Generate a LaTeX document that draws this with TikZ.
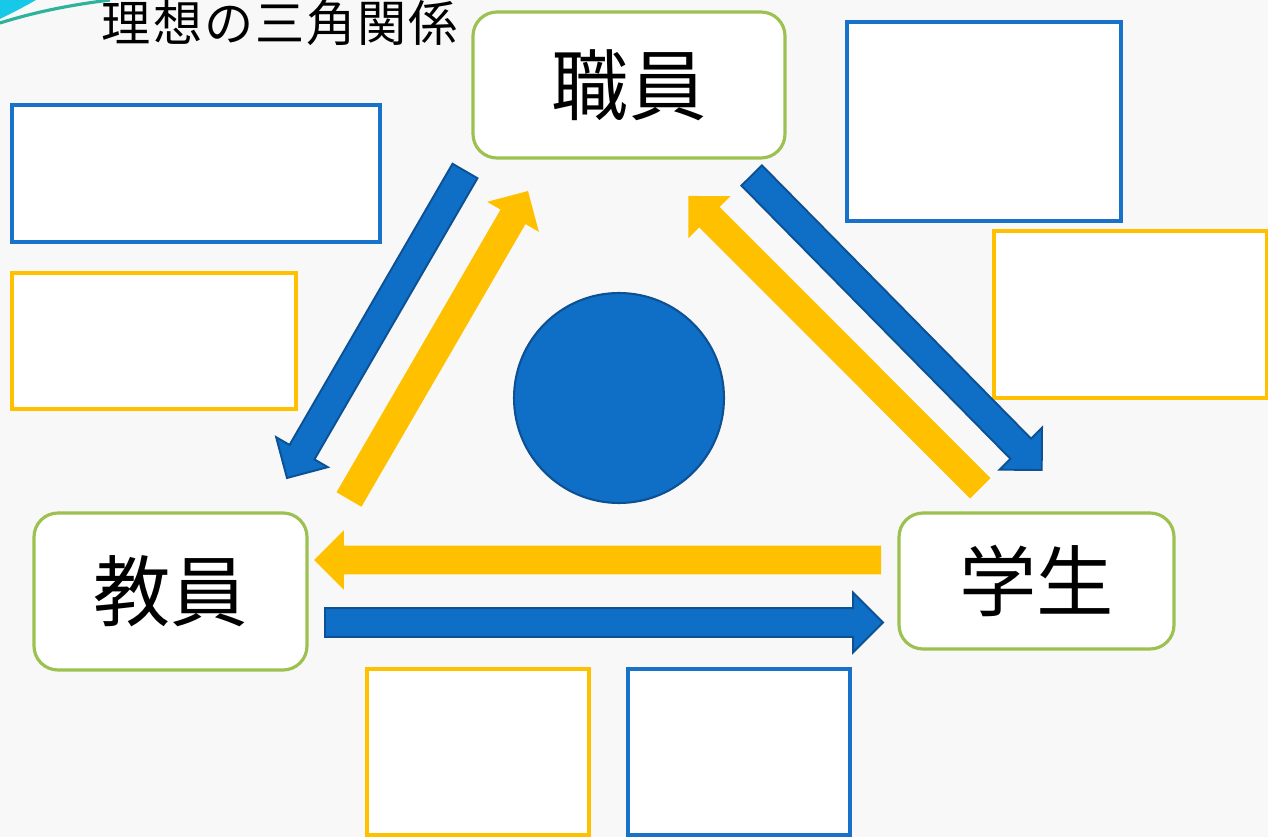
\documentclass[tikz,border=0pt]{standalone}
\usepackage{fontspec}
\newfontfamily\cjk{Noto Sans CJK JP}
\newfontfamily\cjktitle[LetterSpace=4]{Noto Sans CJK JP}
\usetikzlibrary{calc}
\definecolor{bgc}{HTML}{F8F8F8}
\definecolor{arrowB}{HTML}{0F6FC6}
\definecolor{arrowBedge}{HTML}{0B5193}
\definecolor{boxB}{HTML}{1872CA}
\definecolor{arrowY}{HTML}{FFC000}
\definecolor{greenE}{HTML}{9DC150}
\definecolor{swoosh}{HTML}{18C8E8}
\definecolor{swline}{HTML}{2DB39C}
\newcommand\BlockArr[3]{%
  \coordinate (hb) at ($(#2)!17pt!(#1)$);
  \filldraw[#3] ($(#1)!8.2pt!90:(#2)$) -- ($(hb)!8.2pt!90:(#2)$) -- ($(hb)!17pt!90:(#2)$) -- (#2) -- ($(hb)!17pt!-90:(#2)$) -- ($(hb)!8.2pt!-90:(#2)$) -- ($(#1)!8.2pt!-90:(#2)$) -- cycle;}
\begin{document}
\begin{tikzpicture}[x=0.02cm,y=-0.02cm,
  rolebox/.style 2 args={draw=greenE, line width=1.8pt, fill=white, rounded corners=0.48cm,
    minimum width=#1*0.02cm, minimum height=#2*0.02cm, inner sep=0pt, font=\cjk\fontsize{44}{50}\selectfont},
  memoB/.style 2 args={draw=boxB, line width=2pt, fill=white, minimum width=#1*0.02cm, minimum height=#2*0.02cm, inner sep=0pt},
  memoY/.style 2 args={draw=arrowY, line width=2pt, fill=white, minimum width=#1*0.02cm, minimum height=#2*0.02cm, inner sep=0pt},
  yarrow/.style={fill=arrowY, draw=none},
  barrow/.style={fill=arrowB, draw=arrowBedge, line width=1.1pt, line join=miter}]
\fill[bgc] (0,0) rectangle (1268,837);
\useasboundingbox (0,0) rectangle (1268,837);
% decorative swoosh
\fill[swoosh] (0,0) -- (36,0) .. controls (24,7) and (12,13) .. (0,19) -- cycle;
\draw[swline, line width=1.8pt] (0,23) .. controls (35,12) and (70,5) .. (110,0);
% title
\node[font=\cjktitle\fontsize{28}{32}\selectfont, anchor=center] (title) at (280,23) {理想の三角関係};
% role boxes
\node[rolebox={312}{146}] (shoku) at (629,85) {職員};
\node[rolebox={273}{157}] (kyoin) at (170.5,591.5) {教員};
\node[rolebox={275}{136}] (gaku) at (1036.5,581) {学生};
% memo boxes
\node[memoB={368}{137}] (bl1) at (196,173.5) {};
\node[memoY={284}{136}] (yl1) at (154,341) {};
\node[memoB={274}{199}] (br1) at (984,121.5) {};
\node[memoY={273}{167}] (yr1) at (1130.5,314.5) {};
\node[memoY={222}{166}] (yb) at (478,752) {};
\node[memoB={222}{166}] (bb) at (739,752) {};
% centre circle
\node[circle, fill=arrowB, draw=arrowBedge, line width=1.2pt, minimum size=4.2cm, inner sep=0pt] (core) at (619,398) {};
% arrow end points
\coordinate (s1) at (465,171);    \coordinate (t1) at (287,478);
\coordinate (s2) at (349,499.5);  \coordinate (t2) at (528,191);
\coordinate (s3) at (751.7,175.5);\coordinate (t3) at (1041.7,470);
\coordinate (s4) at (980.3,488.3);\coordinate (t4) at (688.3,196);
\coordinate (s5) at (881,560);    \coordinate (t5) at (314,560);
\coordinate (s6) at (325,622.5);  \coordinate (t6) at (883,622.5);
\BlockArr{s1}{t1}{barrow}
\BlockArr{s2}{t2}{yarrow}
\BlockArr{s3}{t3}{barrow}
\BlockArr{s4}{t4}{yarrow}
\BlockArr{s5}{t5}{yarrow}
\BlockArr{s6}{t6}{barrow}
\end{tikzpicture}
\end{document}
